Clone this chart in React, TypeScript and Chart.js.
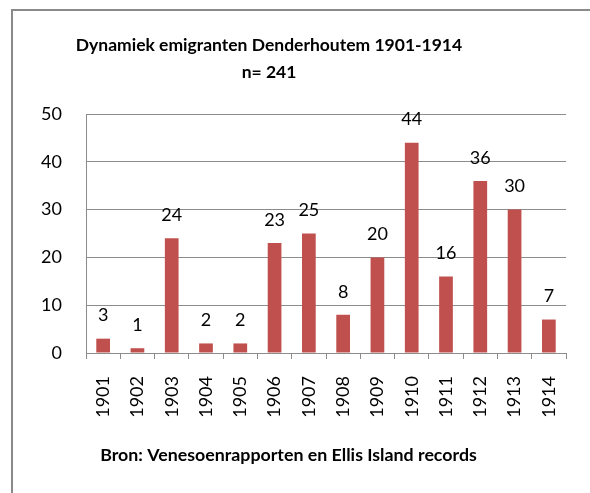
import React, { useEffect, useRef } from "react";
import { Chart, registerables } from "chart.js";

Chart.register(...registerables);

const categories = ["1901","1902","1903","1904","1905","1906","1907","1908","1909","1910","1911","1912","1913","1914"];
const values = [3, 1, 24, 2, 2, 23, 25, 8, 20, 44, 16, 36, 30, 7];
const titleLines = ["Dynamiek emigranten Denderhoutem 1901-1914", "n= 241"];
const xAxisTitle = "Bron: Venesoenrapporten en Ellis Island records";

const FONT = "Lato, 'Open Sans', sans-serif";

const valueLabels = {
  id: "valueLabels",
  afterDatasetsDraw(chart: any) {
    const ctx = chart.ctx;
    const meta = chart.getDatasetMeta(0);
    ctx.save();
    ctx.font = `18px ${FONT}`;
    ctx.fillStyle = "#000";
    ctx.textAlign = "center";
    ctx.textBaseline = "middle";
    meta.data.forEach((el: any, i: number) => {
      ctx.fillText(String(values[i]), el.x, el.y - 23);
    });
    ctx.restore();
  },
};

const texts = {
  id: "texts",
  afterDraw(chart: any) {
    const ctx = chart.ctx;
    ctx.save();
    ctx.fillStyle = "#000";
    ctx.textAlign = "center";
    ctx.textBaseline = "middle";
    ctx.font = `bold 17.5px ${FONT}`;
    ctx.fillText(titleLines[0], 269, 45);
    ctx.fillText(titleLines[1], 269, 72);
    ctx.font = `bold 17.8px ${FONT}`;
    ctx.fillText(xAxisTitle, 288.5, 455);
    ctx.restore();
  },
};

export default function App() {
  const ref = useRef<HTMLCanvasElement | null>(null);
  useEffect(() => {
    if (!ref.current) return;
    const chart = new Chart(ref.current, {
      type: "bar",
      data: {
        labels: categories,
        datasets: [
          {
            data: values,
            backgroundColor: "#C0504D",
            borderWidth: 0,
            barPercentage: 0.4,
            categoryPercentage: 1,
          },
        ],
      },
      options: {
        animation: false,
        responsive: false,
        layout: { padding: { left: 0, right: 24, top: 114, bottom: 0 } },
        plugins: {
          legend: { display: false },
          tooltip: { enabled: false },
          title: { display: false },
        },
        scales: {
          x: {
            afterFit(scale: any) {
              scale.height = 140;
            },
            grid: {
              offset: true,
              drawOnChartArea: false,
              drawTicks: true,
              tickLength: 6,
              color: "#8c8c8c",
              lineWidth: 1,
            },
            border: { display: true, color: "#8c8c8c", width: 1 },
            ticks: {
              color: "#000",
              font: { family: FONT, size: 18 },
              minRotation: 90,
              maxRotation: 90,
              padding: 17,
              autoSkip: false,
            },
          },
          y: {
            min: 0,
            max: 50,
            afterFit(scale: any) {
              scale.width = 86;
            },
            grid: { color: "#8c8c8c", lineWidth: 1, drawTicks: false },
            border: { display: true, color: "#8c8c8c", width: 1 },
            ticks: {
              stepSize: 10,
              color: "#000",
              font: { family: FONT, size: 18 },
              padding: 24,
            },
          },
        },
      },
      plugins: [valueLabels, texts],
    });
    return () => chart.destroy();
  }, []);

  return (
    <div
      style={{
        position: "fixed",
        left: 0,
        top: 0,
        width: 590,
        height: 493,
        overflow: "hidden",
        background: "#fff",
      }}
    >
      <div
        style={{
          position: "absolute",
          left: 11,
          top: 9,
          width: 700,
          height: 700,
          borderLeft: "2px solid #8a8a8a",
          borderTop: "2px solid #8a8a8a",
        }}
      />
      <canvas
        ref={ref}
        width={590}
        height={493}
        style={{ position: "absolute", left: 0, top: 0, width: 590, height: 493 }}
      />
    </div>
  );
}
